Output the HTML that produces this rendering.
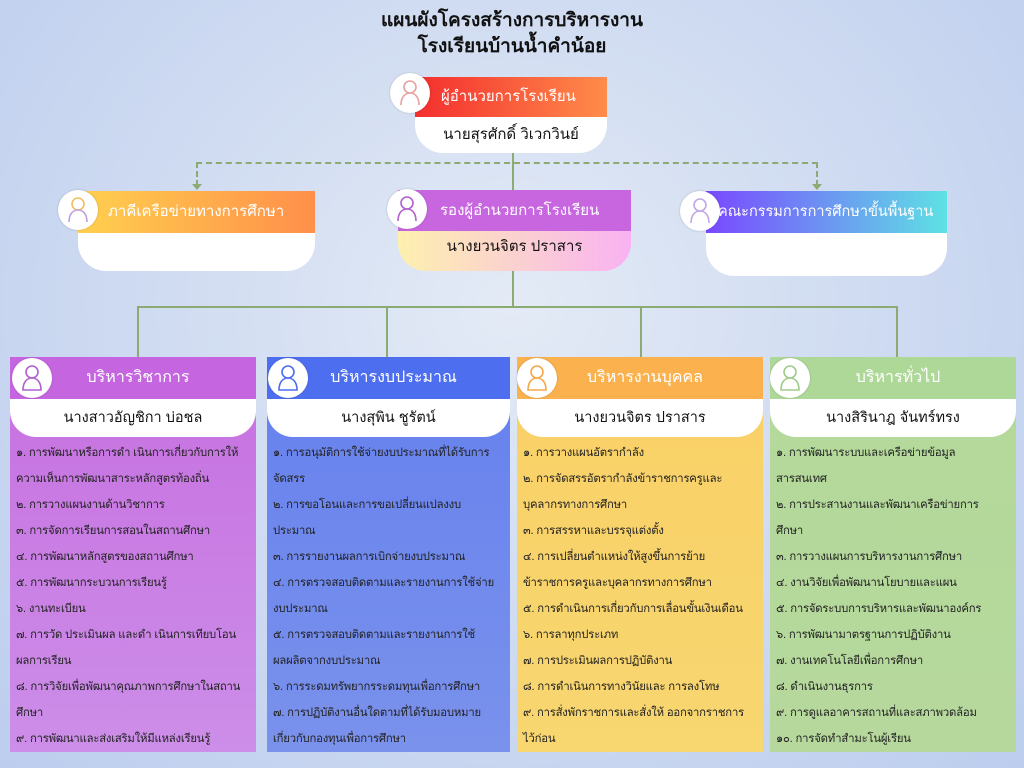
<!DOCTYPE html>
<html style="overflow:hidden"><head><meta charset="utf-8"><style>
*{margin:0;padding:0;box-sizing:border-box}
body{width:1024px;height:768px;overflow:hidden;position:relative;font-family:"Liberation Sans","Noto Sans CJK SC","WenQuanYi Zen Hei",sans-serif;
background:radial-gradient(ellipse at 50% 40%,#e4ebf6 0%,#d3def2 40%,#bccdee 100%);}
.abs{position:absolute}
.title{left:0;width:1024px;text-align:center;font-weight:bold;font-size:19px;color:#111;line-height:26px}
.hdr{color:#fff;font-size:15px;line-height:40px;white-space:nowrap;overflow:hidden}
.circ{position:absolute;width:40px;height:40px;border-radius:50%;background:#fff;box-shadow:0 0 2px rgba(0,0,0,.2)}
.circ svg{position:absolute;left:8px;top:6px}
.name{background:#fff;border-radius:0 0 28px 28px;text-align:center;font-size:15px;color:#111}
.col{position:absolute;top:357px;width:246px;height:395px;overflow:hidden}
.col .h{height:42px;color:#fff;font-size:16px;text-align:center;line-height:42px;padding-left:10px}
.col .n{height:38px;background:#fff;border-radius:26px 26px 26px 26px/0 0 26px 26px;text-align:center;line-height:38px;font-size:14.5px;color:#111}
.col ul{list-style:none;padding:3px 2px 0 6px;font-size:11.3px;letter-spacing:-0.2px;color:#222;line-height:26px;white-space:nowrap}
.line{position:absolute;background:#8cab72}
</style></head><body>
<div class="abs title" style="top:8px">แผนผังโครงสร้างการบริหารงาน</div>
<div class="abs title" style="top:34px">โรงเรียนบ้านน้ำคำน้อย</div>

<div class="line" style="left:512px;top:152px;width:2px;height:40px"></div>
<div class="abs" style="left:196px;top:162px;width:622px;height:0;border-top:2px dashed #8cab72"></div>
<div class="abs" style="left:196px;top:162px;width:0;height:24px;border-left:2px dashed #8cab72"></div>
<div class="abs" style="left:816px;top:162px;width:0;height:24px;border-left:2px dashed #8cab72"></div>
<div class="abs" style="left:192px;top:184px;border-left:5px solid transparent;border-right:5px solid transparent;border-top:6px solid #8cab72"></div>
<div class="abs" style="left:812px;top:184px;border-left:5px solid transparent;border-right:5px solid transparent;border-top:6px solid #8cab72"></div>
<div class="line" style="left:512px;top:270px;width:2px;height:38px"></div>
<div class="line" style="left:137px;top:306px;width:761px;height:2px"></div>
<div class="line" style="left:137px;top:306px;width:2px;height:52px"></div>
<div class="line" style="left:386px;top:306px;width:2px;height:52px"></div>
<div class="line" style="left:640px;top:306px;width:2px;height:52px"></div>
<div class="line" style="left:896px;top:306px;width:2px;height:52px"></div>

<div class="abs hdr" style="left:415px;top:77px;width:192px;height:40px;background:linear-gradient(90deg,#f42e2e,#ff8c4a);padding-left:26px">ผู้อำนวยการโรงเรียน</div>
<div class="abs name" style="left:415px;top:117px;width:192px;height:36px;line-height:36px">นายสุรศักดิ์ วิเวกวินย์</div>
<div class="circ" style="left:390px;top:73px"><svg width="24" height="28" viewBox="0 0 24 28"><circle cx="12" cy="8" r="6" fill="none" stroke="#e8a0a0" stroke-width="1.6"/><path d="M3 26c0-8 4-12 9-12s9 4 9 12" fill="none" stroke="#e8a0a0" stroke-width="1.6"/></svg></div>

<div class="abs hdr" style="left:78px;top:191px;width:237px;height:42px;line-height:42px;background:linear-gradient(90deg,#ffd04e,#ff8f4a);padding-left:30px">ภาคีเครือข่ายทางการศึกษา</div>
<div class="abs name" style="left:78px;top:233px;width:237px;height:38px"></div>
<div class="circ" style="left:58px;top:190px"><svg width="24" height="28" viewBox="0 0 24 28"><circle cx="12" cy="8" r="6" fill="none" stroke="#f0c060" stroke-width="1.6"/><path d="M3 26c0-8 4-12 9-12s9 4 9 12" fill="none" stroke="#c0a0e0" stroke-width="1.6"/></svg></div>

<div class="abs hdr" style="left:398px;top:190px;width:233px;height:41px;line-height:41px;background:#c866e0;padding-left:42px">รองผู้อำนวยการโรงเรียน</div>
<div class="abs name" style="left:398px;top:231px;width:233px;height:40px;line-height:32px;background:linear-gradient(90deg,#fdf0ae,#f9b2f2)">นางยวนจิตร ปราสาร</div>
<div class="circ" style="left:387px;top:189px"><svg width="24" height="28" viewBox="0 0 24 28"><circle cx="12" cy="8" r="6" fill="none" stroke="#b060d0" stroke-width="1.6"/><path d="M3 26c0-8 4-12 9-12s9 4 9 12" fill="none" stroke="#b060d0" stroke-width="1.6"/></svg></div>

<div class="abs hdr" style="left:706px;top:191px;width:241px;height:42px;line-height:42px;background:linear-gradient(90deg,#7a48ff,#5ee2e4);padding-left:12px;font-size:14.5px">คณะกรรมการการศึกษาขั้นพื้นฐาน</div>
<div class="abs name" style="left:706px;top:233px;width:241px;height:43px"></div>
<div class="circ" style="left:680px;top:191px"><svg width="24" height="28" viewBox="0 0 24 28"><circle cx="12" cy="8" r="6" fill="none" stroke="#c0a8e8" stroke-width="1.6"/><path d="M3 26c0-8 4-12 9-12s9 4 9 12" fill="none" stroke="#c0a8e8" stroke-width="1.6"/></svg></div>

<div class="col" style="left:10px;background:linear-gradient(180deg,#c76fe0,#cc8ee8)">
<div class="h" style="background:#c566e0">บริหารวิชาการ</div>
<div class="n">นางสาวอัญชิกา บ่อชล</div>
<ul><li>๑. การพัฒนาหรือการดำ เนินการเกี่ยวกับการให้</li><li>ความเห็นการพัฒนาสาระหลักสูตรท้องถิ่น</li><li>๒. การวางแผนงานด้านวิชาการ</li><li>๓. การจัดการเรียนการสอนในสถานศึกษา</li><li>๔. การพัฒนาหลักสูตรของสถานศึกษา</li><li>๕. การพัฒนากระบวนการเรียนรู้</li><li>๖. งานทะเบียน</li><li>๗. การวัด ประเมินผล และดำ เนินการเทียบโอน</li><li>ผลการเรียน</li><li>๘. การวิจัยเพื่อพัฒนาคุณภาพการศึกษาในสถาน</li><li>ศึกษา</li><li>๙. การพัฒนาและส่งเสริมให้มีแหล่งเรียนรู้</li></ul>
</div>
<div class="col" style="left:267px;width:243px;background:linear-gradient(180deg,#6580ee,#7a92ec)">
<div class="h" style="background:#4e6ef0">บริหารงบประมาณ</div>
<div class="n">นางสุพิน ชูรัตน์</div>
<ul><li>๑. การอนุมัติการใช้จ่ายงบประมาณที่ได้รับการ</li><li>จัดสรร</li><li>๒. การขอโอนและการขอเปลี่ยนแปลงงบ</li><li>ประมาณ</li><li>๓. การรายงานผลการเบิกจ่ายงบประมาณ</li><li>๔. การตรวจสอบติดตามและรายงานการใช้จ่าย</li><li>งบประมาณ</li><li>๕. การตรวจสอบติดตามและรายงานการใช้</li><li>ผลผลิตจากงบประมาณ</li><li>๖. การระดมทรัพยากรระดมทุนเพื่อการศึกษา</li><li>๗. การปฏิบัติงานอื่นใดตามที่ได้รับมอบหมาย</li><li>เกี่ยวกับกองทุนเพื่อการศึกษา</li></ul>
</div>
<div class="col" style="left:517px;background:linear-gradient(180deg,#f9d066,#f8d670)">
<div class="h" style="background:#fbb24e">บริหารงานบุคคล</div>
<div class="n">นางยวนจิตร ปราสาร</div>
<ul><li>๑. การวางแผนอัตรากำลัง</li><li>๒. การจัดสรรอัตรากำลังข้าราชการครูและ</li><li>บุคลากรทางการศึกษา</li><li>๓. การสรรหาและบรรจุแต่งตั้ง</li><li>๔. การเปลี่ยนตำแหน่งให้สูงขึ้นการย้าย</li><li>ข้าราชการครูและบุคลากรทางการศึกษา</li><li>๕. การดำเนินการเกี่ยวกับการเลื่อนขั้นเงินเดือน</li><li>๖. การลาทุกประเภท</li><li>๗. การประเมินผลการปฏิบัติงาน</li><li>๘. การดำเนินการทางวินัยและ การลงโทษ</li><li>๙. การสั่งพักราชการและสั่งให้ ออกจากราชการ</li><li>ไว้ก่อน</li></ul>
</div>
<div class="col" style="left:770px;background:linear-gradient(180deg,#b3d99a,#b6d89c)">
<div class="h" style="background:#aed898">บริหารทั่วไป</div>
<div class="n">นางสิรินาฎ จันทร์ทรง</div>
<ul><li>๑. การพัฒนาระบบและเครือข่ายข้อมูล</li><li>สารสนเทศ</li><li>๒. การประสานงานและพัฒนาเครือข่ายการ</li><li>ศึกษา</li><li>๓. การวางแผนการบริหารงานการศึกษา</li><li>๔. งานวิจัยเพื่อพัฒนานโยบายและแผน</li><li>๕. การจัดระบบการบริหารและพัฒนาองค์กร</li><li>๖. การพัฒนามาตรฐานการปฏิบัติงาน</li><li>๗. งานเทคโนโลยีเพื่อการศึกษา</li><li>๘. ดำเนินงานธุรการ</li><li>๙. การดูแลอาคารสถานที่และสภาพวดล้อม</li><li>๑๐. การจัดทำสำมะโนผู้เรียน</li></ul>
</div>

<div class="circ" style="left:12px;top:358px"><svg width="24" height="28" viewBox="0 0 24 28"><circle cx="12" cy="8" r="6" fill="none" stroke="#b060d0" stroke-width="1.6"/><path d="M3 26c0-8 4-12 9-12s9 4 9 12z" fill="none" stroke="#b060d0" stroke-width="1.6"/></svg></div>
<div class="circ" style="left:268px;top:358px"><svg width="24" height="28" viewBox="0 0 24 28"><circle cx="12" cy="8" r="6" fill="none" stroke="#4e6ef0" stroke-width="1.6"/><path d="M3 26c0-8 4-12 9-12s9 4 9 12z" fill="none" stroke="#4e6ef0" stroke-width="1.6"/></svg></div>
<div class="circ" style="left:517px;top:358px"><svg width="24" height="28" viewBox="0 0 24 28"><circle cx="12" cy="8" r="6" fill="none" stroke="#f5a848" stroke-width="1.6"/><path d="M3 26c0-8 4-12 9-12s9 4 9 12z" fill="none" stroke="#f5a848" stroke-width="1.6"/></svg></div>
<div class="circ" style="left:770px;top:358px"><svg width="24" height="28" viewBox="0 0 24 28"><circle cx="12" cy="8" r="6" fill="none" stroke="#a0cc88" stroke-width="1.6"/><path d="M3 26c0-8 4-12 9-12s9 4 9 12z" fill="none" stroke="#a0cc88" stroke-width="1.6"/></svg></div>
</body></html>
